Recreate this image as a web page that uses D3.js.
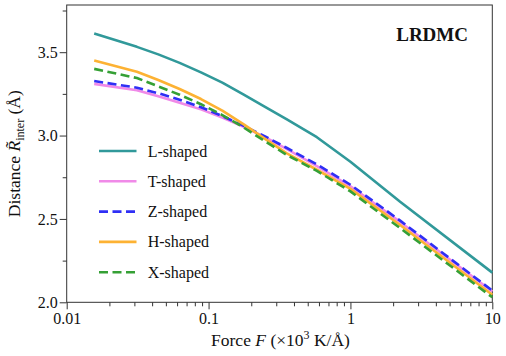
<!DOCTYPE html>
<html>
<head>
<meta charset="utf-8">
<script src="https://cdn.jsdelivr.net/npm/d3@7"></script>
<style>
  html, body { margin: 0; padding: 0; background: #fff; }
  svg { display: block; font-family: "Liberation Serif", "DejaVu Serif", serif; }
</style>
</head>
<body>
<svg id="chart" width="506" height="356"></svg>
<script>
// ---- data ----
const force = [0.015625, 0.03125, 0.0442, 0.0625, 0.0884, 0.125, 0.177, 0.25, 0.354, 0.58, 1, 2.24, 10];
const lShaped = [3.612, 3.532, 3.487, 3.436, 3.379, 3.317, 3.245, 3.172, 3.098, 2.99, 2.843, 2.603, 2.178];
const tShaped = [3.31, 3.272, 3.236, 3.197, 3.157, 3.108, 3.052, 2.99, 2.92, 2.817, 2.695, 2.482, 2.065];
const zShaped = [3.327, 3.287, 3.254, 3.215, 3.17, 3.117, 3.058, 2.995, 2.927, 2.827, 2.705, 2.49, 2.07];
const hShaped = [3.45, 3.383, 3.333, 3.279, 3.219, 3.15, 3.067, 2.98, 2.895, 2.795, 2.68, 2.464, 2.045];
const xShaped = [3.40, 3.345, 3.295, 3.245, 3.188, 3.123, 3.048, 2.966, 2.885, 2.788, 2.665, 2.445, 2.03];
const seriesNames = ["L-shaped", "T-shaped", "Z-shaped", "H-shaped", "X-shaped"];
const xTickValues = [0.01, 0.1, 1, 10];
const xTickLabels = ["0.01", "0.1", "1", "10"];
const yTickValues = [2.0, 2.5, 3.0, 3.5];
const yTickLabels = ["2.0", "2.5", "3.0", "3.5"];

const seriesValues = [lShaped, tShaped, zShaped, hShaped, xShaped];
const styles = [
  { color: "#31999a", dash: null },
  { color: "#f08ae8", dash: null },
  { color: "#2f2ff5", dash: "9,4.5" },
  { color: "#fdb233", dash: null },
  { color: "#35a035", dash: "9,4.5" }
];

const svg = d3.select("#chart");
const m = { left: 66.7, right: 492.3, top: 5, bottom: 302.3 };

const x = d3.scaleLog().domain([0.01, 10]).range([m.left, m.right]);
const y = d3.scaleLinear().domain([2.0, 3.783]).range([m.bottom, m.top]);

// frame
svg.append("rect")
  .attr("x", m.left).attr("y", m.top)
  .attr("width", m.right - m.left).attr("height", m.bottom - m.top)
  .attr("fill", "none").attr("stroke", "#333").attr("stroke-width", 1);

// x axis ticks
const minorX = [];
for (let e = -2; e < 1; e++) for (let k = 2; k <= 9; k++) minorX.push(k * Math.pow(10, e));
const gx = svg.append("g").attr("transform", `translate(0,${m.bottom})`);
gx.call(d3.axisBottom(x).tickValues(minorX).tickSize(4).tickFormat(""))
  .call(g => g.select(".domain").remove());
gx.append("g").call(d3.axisBottom(x).tickValues(xTickValues).tickSize(7)
    .tickPadding(3).tickFormat((d, i) => xTickLabels[i]))
  .call(g => g.select(".domain").remove());
gx.selectAll("line").attr("stroke", "#333").attr("stroke-width", 1);
gx.selectAll("text").attr("font-family", "Liberation Serif").attr("font-size", 16).attr("fill", "#111");

// y axis ticks
const minorY = [2.25, 2.75, 3.25, 3.75];
const gy = svg.append("g").attr("transform", `translate(${m.left},0)`);
gy.call(d3.axisLeft(y).tickValues(minorY).tickSize(4).tickFormat(""))
  .call(g => g.select(".domain").remove());
gy.append("g").call(d3.axisLeft(y).tickValues(yTickValues).tickSize(7)
    .tickPadding(2).tickFormat((d, i) => yTickLabels[i]))
  .call(g => g.select(".domain").remove());
gy.selectAll("line").attr("stroke", "#333").attr("stroke-width", 1);
gy.selectAll("text").attr("font-family", "Liberation Serif").attr("font-size", 16).attr("fill", "#111");

// lines
const line = d3.line()
  .x(d => x(d[0])).y(d => y(d[1]))
  .curve(d3.curveLinear);
seriesValues.forEach((vals, i) => {
  svg.append("path")
    .datum(force.map((f, j) => [f, vals[j]]))
    .attr("fill", "none")
    .attr("stroke", styles[i].color)
    .attr("stroke-width", 2.6)
    .attr("stroke-linejoin", "round")
    .attr("stroke-dasharray", styles[i].dash)
    .attr("d", line);
});

// legend
const leg = svg.append("g");
seriesNames.forEach((name, i) => {
  const ly = 151 + i * 30.3;
  leg.append("line")
    .attr("x1", 99).attr("x2", 136.5).attr("y1", ly).attr("y2", ly)
    .attr("stroke", styles[i].color).attr("stroke-width", 2.6)
    .attr("stroke-dasharray", styles[i].dash);
  leg.append("text")
    .attr("x", 147.7).attr("y", ly + 5.5)
    .attr("font-size", 16).attr("fill", "#111")
    .text(name);
});

// annotation
svg.append("text")
  .attr("x", 468).attr("y", 40.7).attr("text-anchor", "end")
  .attr("font-size", 19).attr("font-weight", "bold").attr("fill", "#111")
  .text("LRDMC");

// x label
const xl = svg.append("text")
  .attr("x", (m.left + m.right) / 2 + 1).attr("y", 346)
  .attr("text-anchor", "middle").attr("font-size", 17.5).attr("fill", "#111");
xl.append("tspan").text("Force ");
xl.append("tspan").attr("font-style", "italic").text("F");
xl.append("tspan").text(" (×10");
xl.append("tspan").attr("font-size", 12).attr("dy", -7).text("3");
xl.append("tspan").attr("dy", 7).text(" K/Å)");

// y label
const yl = svg.append("text")
  .attr("transform", `translate(20,${(m.top + m.bottom) / 2}) rotate(-90)`)
  .attr("text-anchor", "middle").attr("font-size", 17.5).attr("fill", "#111");
yl.append("tspan").text("Distance ");
yl.append("tspan").attr("font-style", "italic").text("R\u0303");
yl.append("tspan").attr("font-size", 12).attr("dy", 4).text("inter");
yl.append("tspan").attr("dy", -4).text(" (Å)");
</script>
</body>
</html>
